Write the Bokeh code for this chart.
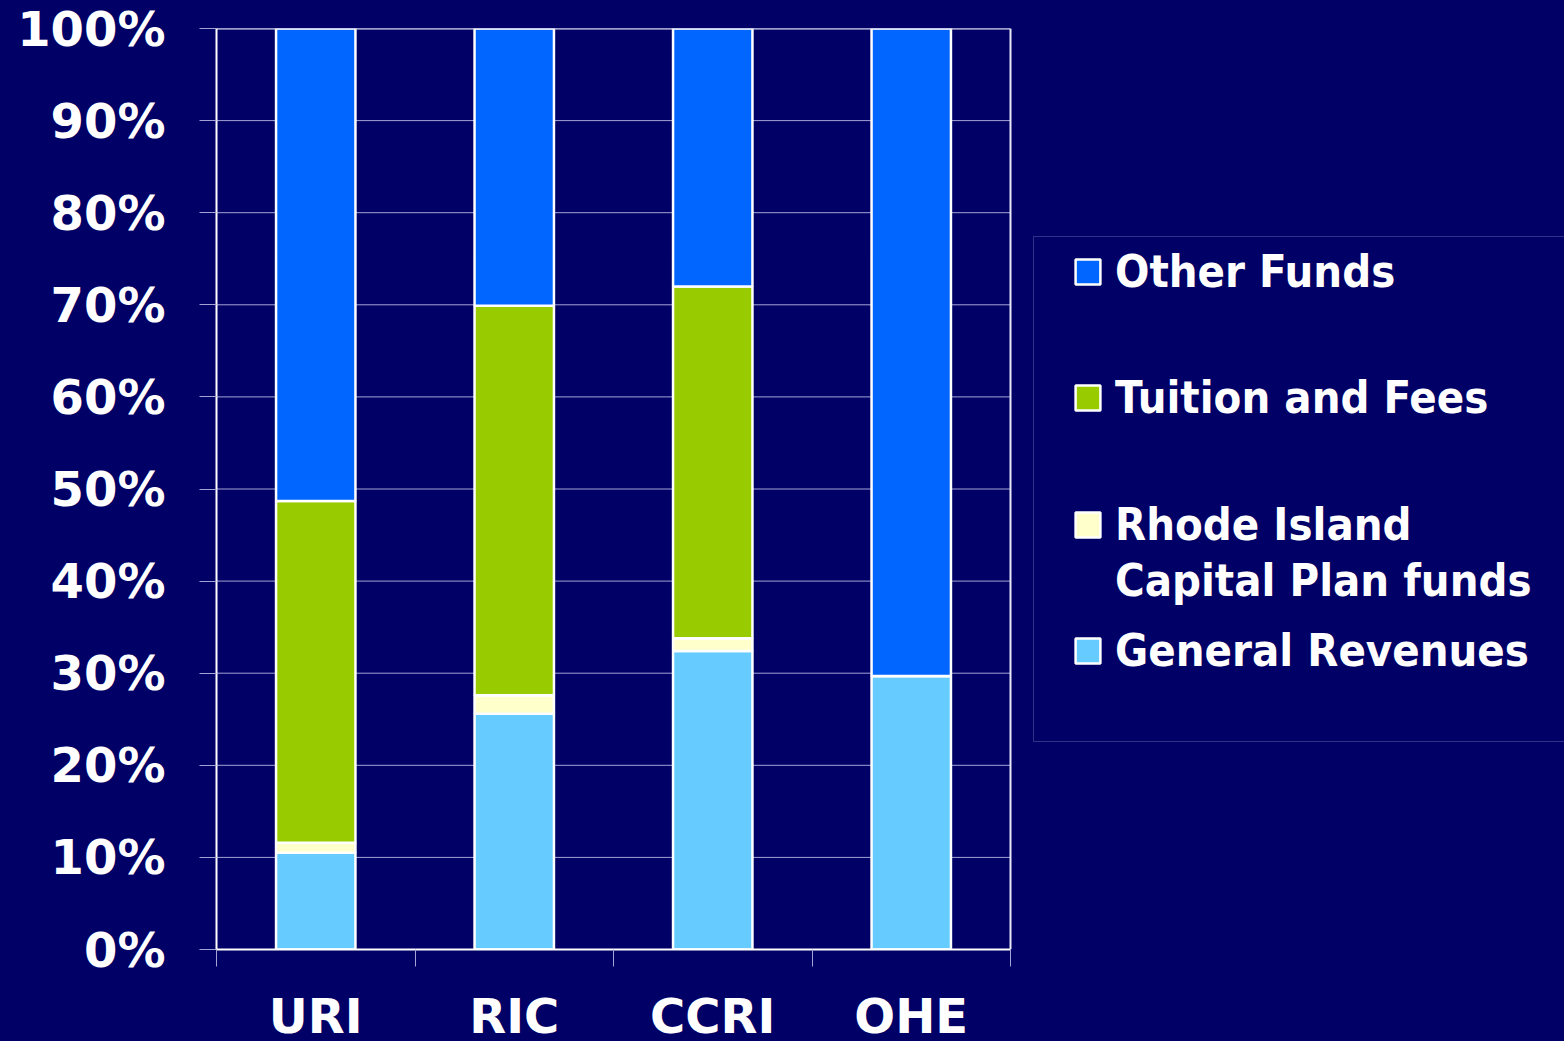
from bokeh.plotting import figure
from bokeh.models import (FixedTicker, LinearAxis, Legend, LegendItem, BoxAnnotation,
                          Range1d, GlobalInlineStyleSheet)
from bokeh.embed import file_html
from bokeh.resources import INLINE

# ---- data (percent of total) ----
categories = ["URI", "RIC", "CCRI", "OHE"]
general_revenues = [10.5, 25.6, 32.4, 29.7]
ri_capital_plan = [1.1, 2.0, 1.4, 0.0]
tuition_and_fees = [37.1, 42.3, 38.2, 0.0]
other_funds = [51.3, 30.1, 28.0, 70.3]
y_ticks = [0, 10, 20, 30, 40, 50, 60, 70, 80, 90, 100]

series_names = ["General Revenues", "Rhode Island Capital Plan funds", "Tuition and Fees", "Other Funds"]
series_keys = ["general", "ricap", "tuition", "other"]
series_colors = ["#66CCFF", "#FFFFCC", "#99CC00", "#0066FF"]

BG = "#000066"
GRID = "#a3a3d6"
EDGE = "#e8e8f6"
FONT = "DejaVu Sans"
LEGEND_FONT = "'DejaVu Sans Condensed', 'DejaVu Sans'"

n = len(categories)
CAT_PX = 198.5                      # pixel width of one category slot
FRAME_W = 1564 - 216
x_end = FRAME_W / CAT_PX            # frame extends right to hold the legend

x_pos = [i + 0.5 for i in range(n)]
source = dict(x=x_pos, general=general_revenues, ricap=ri_capital_plan,
              tuition=tuition_and_fees, other=other_funds)

p = figure(frame_width=FRAME_W, frame_height=921,
           min_border_left=216, min_border_right=0, min_border_top=28, min_border_bottom=92,
           x_range=Range1d(0, x_end), y_range=Range1d(0, 100),
           output_backend="svg", toolbar_location=None,
           background_fill_color=BG, border_fill_color=BG)
p.stylesheets = [GlobalInlineStyleSheet(css="body { background-color: #000066; overflow: hidden; }")]
p.outline_line_color = None
p.xgrid.grid_line_color = None
p.ygrid.grid_line_color = None

# horizontal grid lines over the plot area only
p.segment(x0=[0] * len(y_ticks), x1=[n] * len(y_ticks), y0=y_ticks, y1=y_ticks,
          line_color=GRID, line_width=1)

renderers = p.vbar_stack(series_keys, x="x", width=0.4, source=source,
                         color=series_colors, line_color="white", line_width=2.5)

# top and right border of plot area
p.segment(x0=[0, n], x1=[n, n], y0=[100, 0], y1=[100, 100], line_color=EDGE, line_width=2)

# y axis
ya = p.yaxis[0]
ya.ticker = FixedTicker(ticks=y_ticks)
ya.major_label_overrides = {t: f"{t}%" for t in y_ticks}
ya.axis_line_color = "white"
ya.axis_line_width = 2
ya.major_tick_line_color = GRID
ya.major_tick_in = 0
ya.major_tick_out = 17
ya.minor_tick_line_color = None
ya.major_label_standoff = 34
ya.major_label_text_font = FONT
ya.major_label_text_font_style = "bold"
ya.major_label_text_font_size = "48px"
ya.major_label_text_color = "white"

# x axis: tick marks at category boundaries
xa = p.xaxis[0]
xa.bounds = (0, n)
xa.ticker = FixedTicker(ticks=list(range(n + 1)))
xa.major_label_overrides = {i: "" for i in range(n + 1)}
xa.major_label_text_font_size = "1px"
xa.major_label_standoff = 0
xa.axis_line_color = "white"
xa.axis_line_width = 2
xa.major_tick_line_color = GRID
xa.major_tick_in = 0
xa.major_tick_out = 17
xa.minor_tick_line_color = None

# x axis: category labels
xl = LinearAxis(ticker=FixedTicker(ticks=x_pos),
                major_label_overrides={x: c for x, c in zip(x_pos, categories)})
xl.axis_line_color = None
xl.major_tick_line_color = None
xl.minor_tick_line_color = None
xl.major_label_standoff = 15
xl.major_label_text_font = FONT
xl.major_label_text_font_style = "bold"
xl.major_label_text_font_size = "48px"
xl.major_label_text_color = "white"
p.add_layout(xl, "below")

# legend box
box = BoxAnnotation(left=1033, right=1700, top=236, bottom=741,
                    left_units="canvas", right_units="canvas", top_units="canvas", bottom_units="canvas",
                    fill_alpha=0, line_color=GRID, line_width=1)
p.add_layout(box)

blank = p.scatter(x=[], y=[], fill_alpha=0, line_alpha=0)

r_by_key = dict(zip(series_keys, renderers))
legend_entries = [
    ("Other Funds", r_by_key["other"], 678),
    ("Tuition and Fees", r_by_key["tuition"], 551.5),
    ("Rhode Island", r_by_key["ricap"], 424.5),
    ("Capital Plan funds", blank, 369),
    ("General Revenues", r_by_key["general"], 298.5),
]
LH = 60
for label, r, cy in legend_entries:
    lg = Legend(items=[LegendItem(label=label, renderers=[r])],
                location=(856, cy - LH / 2),
                border_line_alpha=0, background_fill_alpha=0,
                padding=0, margin=0, spacing=0,
                glyph_width=31, glyph_height=31, label_standoff=12, label_height=LH,
                label_text_font=LEGEND_FONT, label_text_font_style="bold",
                label_text_font_size="45px", label_text_color="white")
    p.add_layout(lg, "center")

open("out.html", "w").write(file_html(p, INLINE))
